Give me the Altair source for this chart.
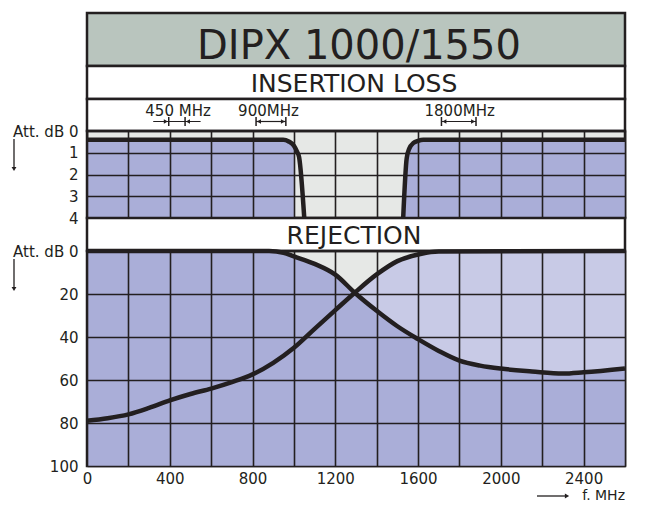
import altair as alt
import pandas as pd

# ---------------- data ----------------
TITLE = "DIPX 1000/1550"
BAND_IL = "INSERTION LOSS"
BAND_REJ = "REJECTION"

freq_ticks = list(range(0, 2601, 200))
il_ticks = [0, 1, 2, 3, 4]
rej_ticks = [0, 20, 40, 60, 80, 100]

# insertion loss curves (MHz, dB)
il_low_f = [0, 948, 975, 1000, 1015, 1025, 1050]
il_low_db = [0.4, 0.4, 0.48, 0.68, 0.95, 1.2, 4.0]
il_high_f = [1528, 1545, 1558, 1578, 1600, 1625, 2600]
il_high_db = [4.0, 1.25, 0.8, 0.55, 0.45, 0.4, 0.4]

# rejection curves (MHz, dB)
rej_a_f = [0, 880, 950, 1000, 1100, 1200, 1294, 1400, 1500, 1600, 1700, 1800,
           1900, 2000, 2150, 2300, 2400, 2600]
rej_a_db = [0, 0, 0.8, 2.5, 6, 11, 19.4, 27.8, 35, 41, 46.5, 51,
            53.3, 54.7, 56, 57, 56.4, 54.6]
rej_b_f = [0, 100, 200, 300, 400, 500, 600, 700, 800, 900, 1000, 1100, 1200,
           1294, 1400, 1500, 1600, 1700, 2600]
rej_b_db = [79, 77.8, 76, 73, 69.5, 66.5, 64, 61, 57.4, 52, 45, 36.2, 27.5,
            19.4, 10.9, 4.7, 1.6, 0.2, 0]

# band markers in the header
ann_text = ["450 MHz", "900MHz", "1800MHz"]
ann_center = [440, 877, 1801]
ann_lo = [395, 817, 1713]
ann_hi = [474, 961, 1880]
ann_inward = [True, False, False]

# ---------------- style ----------------
FONT = "DejaVu Sans"
INK = "#231f20"
DARK = "#aaaed8"
LIGHT = "#c8cae6"
GRAY = "#e6e8e6"
HEAD = "#b9c5be"
W = 538
XS = alt.Scale(domain=[0, 2600], nice=False, zero=False)


def frame(fill):
    return alt.ViewBackground(fill=fill, stroke=INK, strokeWidth=2.5)


one = pd.DataFrame({"k": [0]})

# ---------------- title band ----------------
p_title = alt.Chart(pd.DataFrame({"t": [TITLE]})).mark_text(
    font=FONT, fontSize=40, color=INK, baseline="alphabetic"
).encode(text="t:N", x=alt.value(W / 2 + 3), y=alt.value(46)).properties(
    width=W, height=53, view=frame(HEAD))

p_il_band = alt.Chart(pd.DataFrame({"t": [BAND_IL]})).mark_text(
    font=FONT, fontSize=25, color=INK, baseline="alphabetic"
).encode(text="t:N", x=alt.value(W / 2 - 2), y=alt.value(26)).properties(
    width=W, height=33, view=frame("white"))

# ---------------- annotation band ----------------
pad_out = 75
seg_rows, tick_rows, head_rows = [], [], []
for lo, hi, inward in zip(ann_lo, ann_hi, ann_inward):
    if inward:
        seg_rows.append({"a": lo - pad_out, "b": hi + pad_out})
        head_rows.append({"f": lo - 14, "s": "triangle-right"})
        head_rows.append({"f": hi + 14, "s": "triangle-left"})
    else:
        seg_rows.append({"a": lo, "b": hi})
        head_rows.append({"f": lo + 14, "s": "triangle-left"})
        head_rows.append({"f": hi - 14, "s": "triangle-right"})
    tick_rows += [{"f": lo}, {"f": hi}]

ann_lbl = alt.Chart(pd.DataFrame({"t": ann_text, "f": ann_center})).mark_text(
    font=FONT, fontSize=15, color=INK, baseline="alphabetic"
).encode(text="t:N", x=alt.X("f:Q", scale=XS, axis=None), y=alt.value(17))
ann_seg = alt.Chart(pd.DataFrame(seg_rows)).mark_rule(color=INK, strokeWidth=1.2).encode(
    x=alt.X("a:Q", scale=XS, axis=None), x2="b:Q", y=alt.value(22.5))
ann_tick = alt.Chart(pd.DataFrame(tick_rows)).mark_rule(color=INK, strokeWidth=1.5).encode(
    x=alt.X("f:Q", scale=XS, axis=None), y=alt.value(18), y2=alt.value(27))
ann_head = alt.Chart(pd.DataFrame(head_rows)).mark_point(
    filled=True, color=INK, size=22, opacity=1).encode(
    x=alt.X("f:Q", scale=XS, axis=None), y=alt.value(22.5),
    shape=alt.Shape("s:N", scale=None))
p_ann = alt.layer(ann_lbl, ann_seg, ann_tick, ann_head).properties(
    width=W, height=32, view=frame("white"))


# ---------------- decorations ----------------
def down_arrow():
    r = alt.Chart(one).mark_rule(color=INK, strokeWidth=1.3).encode(
        x=alt.value(-73), y=alt.value(8), y2=alt.value(36))
    h = alt.Chart(one).mark_point(shape="triangle-down", filled=True, color=INK,
                                  size=24, opacity=1).encode(
        x=alt.value(-73), y=alt.value(38))
    return [r, h]


ylab = "datum.value == 0 ? 'Att. dB 0' : datum.label"

# ---------------- insertion loss plot ----------------
df_il = pd.DataFrame({
    "f": il_low_f + il_high_f,
    "db": il_low_db + il_high_db,
    "c": ["low"] * len(il_low_f) + ["high"] * len(il_high_f),
})
X_IL = alt.X("f:Q", scale=XS, axis=alt.Axis(
    values=freq_ticks, labels=False, ticks=False, domain=False, title=None,
    grid=True, gridColor=INK, gridWidth=1.6, zindex=1))
Y_IL = alt.Y("db:Q", scale=alt.Scale(domain=[0, 4], reverse=True, nice=False),
             axis=alt.Axis(values=il_ticks, labelExpr=ylab, ticks=False, domain=False,
                           title=None, grid=True, gridColor=INK, gridWidth=1.6,
                           labelPadding=9, labelOverlap=False, zindex=1))
il_fill_l = alt.Chart(df_il).transform_filter(
    "datum.c == 'low' && datum.f <= 1000").mark_area(
    color=DARK, opacity=1, interpolate="monotone").encode(
    x=X_IL, y=Y_IL, y2=alt.datum(4))
il_fill_r = alt.Chart(df_il).transform_filter("datum.c == 'high'").mark_area(
    color=DARK, opacity=1, interpolate="monotone").encode(
    x=X_IL, y=Y_IL, y2=alt.datum(4))
il_line = alt.Chart(df_il).mark_line(
    color=INK, strokeWidth=4.5, interpolate="monotone").encode(
    x=X_IL, y=Y_IL, detail="c:N", order="f:Q")
p_il = alt.layer(il_fill_l, il_fill_r, il_line, *down_arrow()).properties(
    width=W, height=87, view=frame(GRAY))

p_rej_band = alt.Chart(pd.DataFrame({"t": [BAND_REJ]})).mark_text(
    font=FONT, fontSize=25, color=INK, baseline="alphabetic"
).encode(text="t:N", x=alt.value(W / 2 - 2), y=alt.value(26)).properties(
    width=W, height=33, view=frame("white"))

# ---------------- rejection plot ----------------
df_rej = pd.DataFrame({
    "f": rej_a_f + rej_b_f,
    "db": rej_a_db + rej_b_db,
    "c": ["A"] * len(rej_a_f) + ["B"] * len(rej_b_f),
})
X_R = alt.X("f:Q", scale=XS, axis=alt.Axis(
    values=freq_ticks, format="d",
    labelExpr="datum.value % 400 == 0 && datum.value < 2600 ? datum.label : ''",
    ticks=False, domain=False, title=None, labelFlush=False, labelPadding=5,
    labelOverlap=False, grid=True, gridColor=INK, gridWidth=1.6, zindex=1))
Y_R = alt.Y("db:Q", scale=alt.Scale(domain=[0, 100], reverse=True, nice=False),
            axis=alt.Axis(values=rej_ticks, labelExpr=ylab, ticks=False, domain=False,
                          title=None, grid=True, gridColor=INK, gridWidth=1.6,
                          labelPadding=9, labelOverlap=False, zindex=1))
rej_light = alt.Chart(df_rej).transform_filter("datum.c == 'B'").mark_area(
    color=LIGHT, opacity=1, interpolate="monotone").encode(
    x=X_R, y=Y_R, y2=alt.datum(100))
rej_dark = alt.Chart(df_rej).transform_filter("datum.c == 'A'").mark_area(
    color=DARK, opacity=1, interpolate="monotone").encode(
    x=X_R, y=Y_R, y2=alt.datum(100))
rej_line = alt.Chart(df_rej).mark_line(
    color=INK, strokeWidth=4.5, interpolate="monotone").encode(
    x=X_R, y=Y_R, detail="c:N", order="f:Q")
fm_text = alt.Chart(pd.DataFrame({"t": ["f. MHz"]})).mark_text(
    font=FONT, fontSize=14, color=INK, align="right", baseline="middle").encode(
    text="t:N", x=alt.value(W), y=alt.value(245))
fm_rule = alt.Chart(one).mark_rule(color=INK, strokeWidth=1.3).encode(
    x=alt.value(W - 88), x2=alt.value(W - 60), y=alt.value(245))
fm_head = alt.Chart(one).mark_point(shape="triangle-right", filled=True, color=INK,
                                    size=24, opacity=1).encode(
    x=alt.value(W - 58), y=alt.value(245))
p_rej = alt.layer(rej_light, rej_dark, rej_line, *down_arrow(),
                  fm_text, fm_rule, fm_head).properties(
    width=W, height=215, view=frame(GRAY))

chart = alt.vconcat(p_title, p_il_band, p_ann, p_il, p_rej_band, p_rej,
                    spacing=0, bounds="flush").properties(
    padding={"left": 2, "top": 3, "right": 0, "bottom": 0}
).configure(font=FONT).configure_axis(
    labelFont=FONT, labelFontSize=15, labelColor=INK)

chart.save("out.html", embed_options={"renderer": "svg", "actions": False})
